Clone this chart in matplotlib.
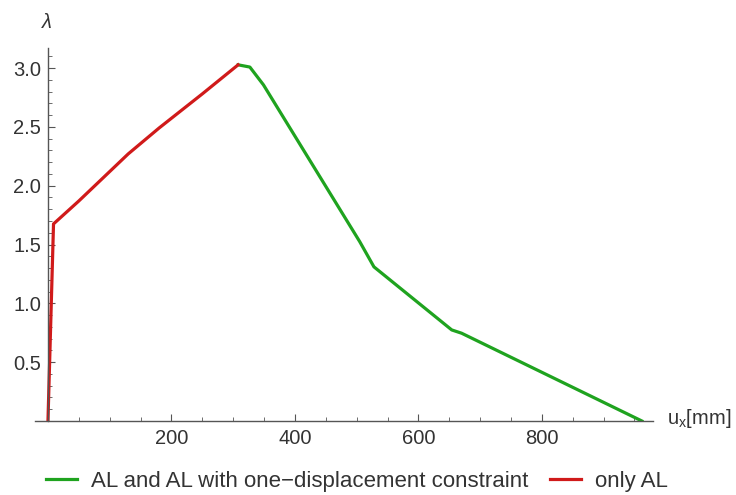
import matplotlib
matplotlib.use("Agg")
import matplotlib.pyplot as plt

plt.rcParams['font.family'] = ['Liberation Sans', 'DejaVu Sans']
plt.rcParams['mathtext.fontset'] = 'custom'
plt.rcParams['mathtext.rm'] = 'Liberation Sans'

# load factor vs horizontal displacement
u_only_al = [0, 9, 50, 130, 180, 250, 308]
lam_only_al = [0, 1.675, 1.87, 2.27, 2.49, 2.78, 3.027]

u_constrained = [308, 327, 349, 505, 528, 654, 670, 962]
lam_constrained = [3.027, 3.008, 2.857, 1.524, 1.31, 0.774, 0.746, 0.0]

x_major = [200, 400, 600, 800]
y_major = [0.5, 1.0, 1.5, 2.0, 2.5, 3.0]

green = '#1fa31f'
red = '#d01a1a'
textc = '#333333'
axc = '#555555'

fig = plt.figure(figsize=(7.36, 4.95), dpi=100)
ax = fig.add_axes([35/736, 1 - 421/495, (653 - 35)/736, (421 - 48)/495])

ax.plot(u_constrained, lam_constrained, color=green, lw=2.3,
        label='AL and AL with one\u2212displacement constraint', solid_joinstyle='round')
ax.plot(u_only_al, lam_only_al, color=red, lw=2.3, label='only AL', solid_joinstyle='round')

ax.set_xlim(-21, 980)
ax.set_ylim(0, 3.17)

for s in ['top', 'right']:
    ax.spines[s].set_visible(False)
ax.spines['left'].set_position(('data', 0))
ax.spines['bottom'].set_position(('data', 0))
for s in ['left', 'bottom']:
    ax.spines[s].set_color(axc)
    ax.spines[s].set_linewidth(1.0)

ax.set_xticks(x_major)
ax.set_xticks([v for v in range(50, 951, 50) if v not in x_major], minor=True)
ax.set_yticks(y_major)
ax.set_yticks([round(v * 0.1, 1) for v in range(1, 32) if v % 5 != 0], minor=True)
ax.set_yticklabels(['%.1f' % v for v in y_major])

ax.tick_params(which='both', direction='in', color=axc, labelcolor=textc, labelsize=14.5)
ax.tick_params(which='major', length=5, width=0.8)
ax.tick_params(which='minor', length=3, width=0.6)
ax.tick_params(axis='x', pad=6)
ax.tick_params(axis='y', pad=5)

fig.text(47/736, 1 - 22/495, '\u03bb', style='italic', fontsize=14.5, color=textc,
         ha='center', va='center')
fig.text(667/736, 1 - 419/495, r'u$_{\mathregular{x}}$[mm]', fontsize=14.5, color=textc,
         ha='left', va='center')

ax.legend(loc='center', bbox_to_anchor=(357/736, 1 - 481/495),
          bbox_transform=fig.transFigure,
          ncol=2, frameon=False, fontsize=16, handlelength=1.4, columnspacing=1.0,
          handletextpad=0.6, labelcolor=textc)

fig.savefig('out.png', dpi=100, facecolor='white')
